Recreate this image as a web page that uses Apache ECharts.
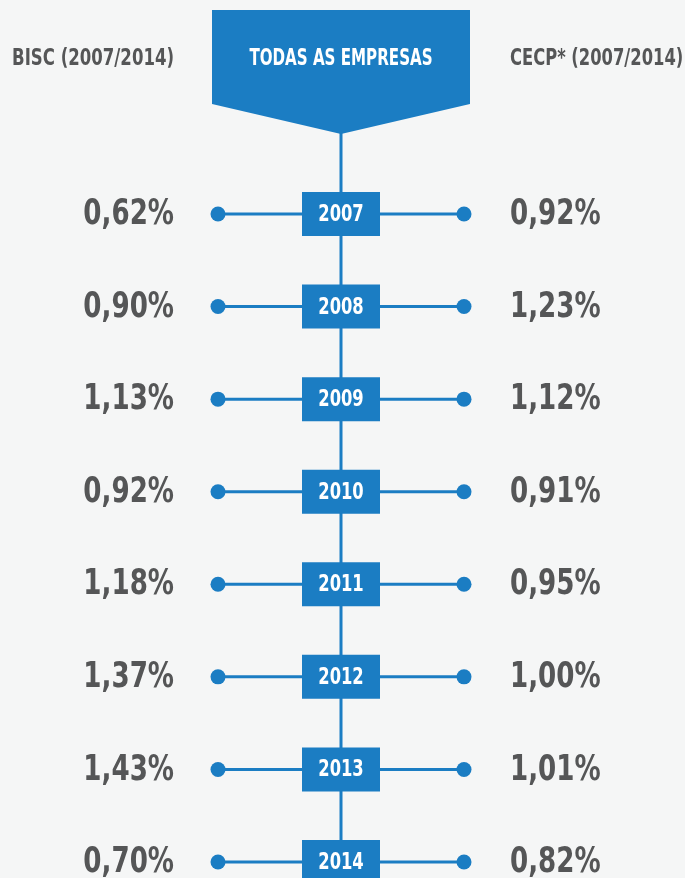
<!DOCTYPE html>
<html><head><meta charset="utf-8">
<script src="https://cdn.jsdelivr.net/npm/echarts@6/dist/echarts.min.js"></script>
<style>html,body{margin:0;padding:0;background:#f5f6f6;}#c{width:685px;height:878px;}</style>
</head><body><div id="c"></div>
<script>
const years = ['2007','2008','2009','2010','2011','2012','2013','2014'];
const bisc = ['0,62%','0,90%','1,13%','0,92%','1,18%','1,37%','1,43%','0,70%'];
const cecp = ['0,92%','1,23%','1,12%','0,91%','0,95%','1,00%','1,01%','0,82%'];
const headLeft = 'BISC (2007/2014)';
const headCenter = 'TODAS AS EMPRESAS';
const headRight = 'CECP* (2007/2014)';

const BLUE = '#1b7dc3';
const GREY = '#555657';
const FONT = '"DejaVu Sans Condensed","Liberation Sans Narrow",sans-serif';

const chart = echarts.init(document.getElementById('c'), null, {renderer:'canvas'});
chart.setOption({
  backgroundColor: '#f5f6f6',
  animation: false,
  grid: {left:0, right:0, top:214, bottom:16},
  xAxis: {type:'value', min:0, max:685, show:false},
  yAxis: {type:'value', min:0, max:years.length-1, inverse:true, show:false},
  graphic: [
    {type:'line', shape:{x1:341, y1:120, x2:341, y2:878}, style:{stroke:BLUE, lineWidth:3}, z:1},
    {type:'polygon', shape:{points:[[212,10],[470,10],[470,104],[341,134],[212,104]]}, style:{fill:BLUE}, z:2},
    {type:'text', x:341, y:59, scaleX:0.73, style:{text:headCenter, fill:'#fff', font:'bold 23px '+FONT, align:'center', verticalAlign:'middle'}, z:3},
    {type:'text', x:174, y:59, scaleX:0.8, style:{text:headLeft, fill:GREY, font:'bold 23px '+FONT, align:'right', verticalAlign:'middle'}, z:3},
    {type:'text', x:510, y:59, scaleX:0.79, style:{text:headRight, fill:GREY, font:'bold 23px '+FONT, align:'left', verticalAlign:'middle'}, z:3}
  ],
  series: [{
    type:'custom',
    coordinateSystem:'cartesian2d',
    data: years.map((y,i)=>[i, y, bisc[i], cecp[i]]),
    encode: {y:0},
    z:5,
    renderItem: function(params, api){
      const i = api.value(0);
      const L = api.coord([218, i]);
      const R = api.coord([464, i]);
      const C = api.coord([341, i]);
      const yy = L[1];
      const d = params.dataIndex;
      return {type:'group', children:[
        {type:'line', shape:{x1:L[0], y1:yy, x2:R[0], y2:yy}, style:{stroke:BLUE, lineWidth:3}},
        {type:'circle', shape:{cx:L[0], cy:yy, r:7.5}, style:{fill:BLUE}},
        {type:'circle', shape:{cx:R[0], cy:yy, r:7.5}, style:{fill:BLUE}},
        {type:'rect', shape:{x:C[0]-39, y:yy-22, width:78, height:44}, style:{fill:BLUE}},
        {type:'text', x:C[0], y:yy+1, scaleX:0.79, style:{text:years[d], fill:'#fff', font:'bold 23px '+FONT, align:'center', verticalAlign:'middle'}},
        {type:'text', x:174, y:yy+1, scaleX:0.83, style:{text:bisc[d], fill:GREY, font:'bold 35px '+FONT, align:'right', verticalAlign:'middle'}},
        {type:'text', x:510, y:yy+1, scaleX:0.83, style:{text:cecp[d], fill:GREY, font:'bold 35px '+FONT, align:'left', verticalAlign:'middle'}}
      ]};
    }
  }]
});
</script></body></html>
